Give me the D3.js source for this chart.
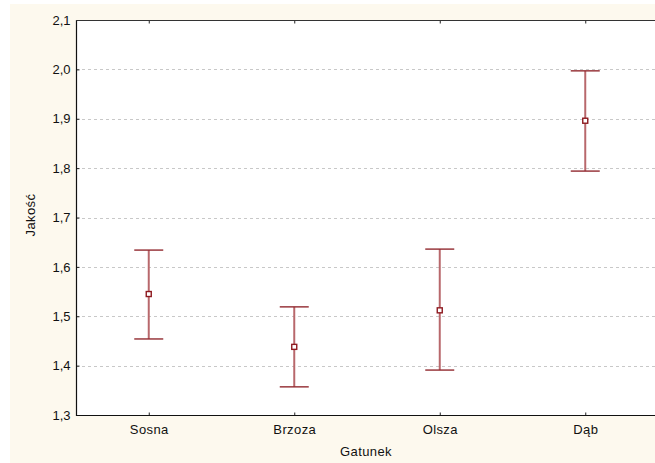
<!DOCTYPE html>
<html>
<head>
<meta charset="utf-8">
<script src="https://cdn.jsdelivr.net/npm/d3@7"></script>
<style>
html,body{margin:0;padding:0;background:#fff;}
svg{display:block;font-family:"Liberation Sans",Arial,sans-serif;}
</style>
</head>
<body>
<svg id="chart" width="655" height="463"></svg>
<script>
const categories = ["Sosna", "Brzoza", "Olsza", "Dąb"];
const means = [1.545, 1.438, 1.512, 1.896];
const upper = [1.634, 1.519, 1.636, 1.997];
const lower = [1.454, 1.357, 1.391, 1.794];
const yTicks = [1.3, 1.4, 1.5, 1.6, 1.7, 1.8, 1.9, 2.0, 2.1];

(function () {
const svg = d3.select("#chart");
const W = 655, H = 463;
const pL = 76, pT = 20, pB = 415, pR = 658;
const FF = "Liberation Sans, Arial, sans-serif";

svg.append("rect").attr("x", 10).attr("y", 4).attr("width", W - 10).attr("height", H - 4).attr("fill", "#fdf9ee");
svg.append("rect").attr("x", pL).attr("y", pT).attr("width", pR - pL).attr("height", pB - pT).attr("fill", "#ffffff");

const x = d3.scalePoint().domain(categories).range([pL, pR]).padding(0.5);
const y = d3.scaleLinear().domain([1.3, 2.1]).range([pB, pT]);
const fmt = v => d3.format(".1f")(v).replace(".", ",");

// gridlines
svg.append("g").selectAll("line").data(yTicks.filter(v => v > 1.3 && v < 2.1)).join("line")
  .attr("x1", pL).attr("x2", pR)
  .attr("y1", d => Math.round(y(d)) + 0.5).attr("y2", d => Math.round(y(d)) + 0.5)
  .attr("stroke", "#c8c8c8").attr("stroke-width", 1).attr("stroke-dasharray", "3,3");

// y axis
const yAxis = d3.axisLeft(y).tickValues(yTicks).tickFormat(fmt).tickSize(-3).tickPadding(6);
const gy = svg.append("g").attr("transform", `translate(${pL + 0.5},0)`).call(yAxis);
gy.select(".domain").remove();
gy.selectAll(".tick line").attr("stroke", "#222");
gy.selectAll("text").attr("font-size", 13).attr("fill", "#111").attr("font-family", FF);

// x axis bottom
const xAxis = d3.axisBottom(x).tickSize(-3).tickPadding(9);
const gx = svg.append("g").attr("transform", `translate(0,${pB + 0.5})`).call(xAxis);
gx.select(".domain").remove();
gx.selectAll(".tick line").attr("stroke", "#222");
gx.selectAll("text").attr("font-size", 13).attr("letter-spacing", 0.4).attr("fill", "#111").attr("font-family", FF);

// x axis top ticks
const gxt = svg.append("g").attr("transform", `translate(0,${pT + 0.5})`).call(d3.axisTop(x).tickSize(-3).tickFormat(""));
gxt.select(".domain").remove();
gxt.selectAll(".tick line").attr("stroke", "#222");

// frame
svg.append("line").attr("x1", pL + 0.5).attr("x2", pL + 0.5).attr("y1", pT).attr("y2", pB + 1).attr("stroke", "#111").attr("stroke-width", 1.2);
svg.append("line").attr("x1", pL).attr("x2", pR).attr("y1", pB + 0.5).attr("y2", pB + 0.5).attr("stroke", "#111").attr("stroke-width", 1.2);
svg.append("line").attr("x1", pL).attr("x2", pR).attr("y1", pT + 0.5).attr("y2", pT + 0.5).attr("stroke", "#333").attr("stroke-width", 1.2);

// error bars
const data = categories.map((c, i) => ({c, m: means[i], u: upper[i], l: lower[i]}));
const g = svg.append("g");
const cap = 14.5;
g.selectAll(".stem").data(data).join("line")
  .attr("x1", d => x(d.c)).attr("x2", d => x(d.c))
  .attr("y1", d => y(d.u)).attr("y2", d => y(d.l))
  .attr("stroke", "#b8686c").attr("stroke-width", 2);
g.selectAll(".capu").data(data).join("line")
  .attr("x1", d => x(d.c) - cap).attr("x2", d => x(d.c) + cap)
  .attr("y1", d => y(d.u)).attr("y2", d => y(d.u))
  .attr("stroke", "#922a30").attr("stroke-width", 1.4);
g.selectAll(".capl").data(data).join("line")
  .attr("x1", d => x(d.c) - cap).attr("x2", d => x(d.c) + cap)
  .attr("y1", d => y(d.l)).attr("y2", d => y(d.l))
  .attr("stroke", "#922a30").attr("stroke-width", 1.4);
g.selectAll(".pt").data(data).join("rect")
  .attr("x", d => x(d.c) - 2.5).attr("y", d => y(d.m) - 2.5)
  .attr("width", 5).attr("height", 5)
  .attr("fill", "#fff").attr("stroke", "#8e1a20").attr("stroke-width", 1.4);

// axis titles
svg.append("text").attr("x", 366).attr("y", 456).attr("text-anchor", "middle")
  .attr("font-size", 13).attr("letter-spacing", 0.4).attr("fill", "#111").text("Gatunek");
svg.append("text").attr("transform", "translate(35,215) rotate(-90)").attr("text-anchor", "middle")
  .attr("font-size", 13).attr("letter-spacing", 0.4).attr("fill", "#111").text("Jakość");
})();
</script>
</body>
</html>
